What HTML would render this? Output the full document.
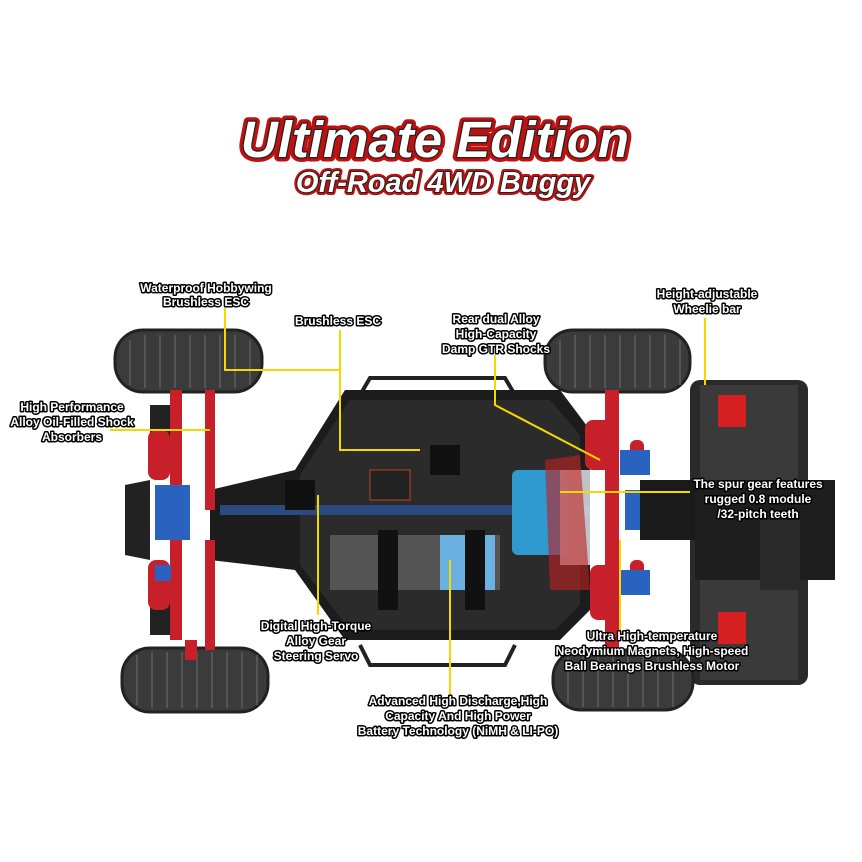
<!DOCTYPE html>
<html><head><meta charset="utf-8"><style>
html,body{margin:0;padding:0;background:#fff;}
svg{display:block}
.t{font-family:"Liberation Sans",sans-serif;font-weight:bold;font-style:italic;}
.lb{font-family:"Liberation Sans",sans-serif;font-weight:bold;font-size:12px;fill:#fff;stroke:#000;stroke-width:3px;paint-order:stroke;stroke-linejoin:round;}
.ln{stroke:#f5d800;stroke-width:2;fill:none}
</style></head><body>
<svg width="862" height="862" viewBox="0 0 862 862" xmlns="http://www.w3.org/2000/svg">
<rect width="862" height="862" fill="#fff"/>
<text x="435" y="157" text-anchor="middle" class="t" font-size="51" fill="#fff" stroke="#c01010" stroke-width="9" stroke-linejoin="round" paint-order="stroke">Ultimate Edition</text>
<text x="435" y="157" text-anchor="middle" class="t" font-size="51" fill="#fff" stroke="#222" stroke-width="2.5" paint-order="stroke">Ultimate Edition</text>
<text x="443" y="192" text-anchor="middle" class="t" font-size="29" fill="#fff" stroke="#c01010" stroke-width="6" stroke-linejoin="round" paint-order="stroke">Off-Road 4WD Buggy</text>
<text x="443" y="192" text-anchor="middle" class="t" font-size="29" fill="#fff" stroke="#222" stroke-width="2" paint-order="stroke">Off-Road 4WD Buggy</text>

<path d="M360 395 L370 378 L505 378 L515 395" stroke="#222" stroke-width="4" fill="none"/>
<path d="M360 645 L370 665 L505 665 L515 645" stroke="#222" stroke-width="4" fill="none"/>
<rect x="690" y="380" width="118" height="305" rx="10" fill="#2a2a2a"/>
<rect x="700" y="385" width="98" height="295" fill="#3a3a3a"/>
<rect x="695" y="480" width="140" height="100" fill="#1e1e1e"/>
<rect x="718" y="395" width="28" height="32" fill="#d42020"/>
<rect x="718" y="612" width="28" height="32" fill="#d42020"/>
<rect x="760" y="520" width="40" height="70" fill="#2a2a2a"/>
<g fill="#3b3b3b" stroke="#222" stroke-width="3">
<rect x="115" y="330" width="147" height="62" rx="28"/>
<rect x="122" y="648" width="146" height="64" rx="28"/>
<rect x="545" y="330" width="145" height="62" rx="28"/>
<rect x="553" y="650" width="140" height="60" rx="28"/>
</g>
<g stroke="#555" stroke-width="2">
<path d="M130 340 V385 M145 335 V388 M160 335 V388 M175 335 V388 M190 335 V388 M205 335 V388 M220 335 V388 M235 335 V388 M250 340 V385"/>
<path d="M137 655 V705 M152 652 V708 M167 652 V708 M182 652 V708 M197 652 V708 M212 652 V708 M227 652 V708 M242 652 V708 M257 655 V705"/>
<path d="M560 340 V385 M575 335 V388 M590 335 V388 M605 335 V388 M620 335 V388 M635 335 V388 M650 335 V388 M665 335 V388 M680 340 V385"/>
<path d="M568 657 V703 M583 653 V707 M598 653 V707 M613 653 V707 M628 653 V707 M643 653 V707 M658 653 V707 M673 653 V707"/>
</g>
<path d="M125 485 L150 480 L150 560 L125 555 Z" fill="#222"/>
<rect x="150" y="405" width="30" height="40" fill="#222"/>
<rect x="150" y="595" width="30" height="40" fill="#222"/>
<path d="M210 490 L295 470 L345 390 L560 390 L590 430 L590 610 L560 640 L345 640 L295 570 L210 560 Z" fill="#1c1c1c"/>
<path d="M300 475 L350 400 L550 400 L580 435 L580 605 L555 630 L350 630 L300 565 Z" fill="#2b2b2b"/>
<rect x="220" y="505" width="370" height="10" fill="#2a4a80"/>
<rect x="330" y="535" width="170" height="55" fill="#555"/>
<rect x="440" y="535" width="55" height="55" fill="#6ab0e0"/>
<rect x="378" y="530" width="20" height="80" fill="#111"/>
<rect x="465" y="530" width="20" height="80" fill="#111"/>
<rect x="370" y="470" width="40" height="30" fill="#222" stroke="#c04020"/>
<rect x="285" y="480" width="30" height="30" fill="#111"/>
<rect x="430" y="445" width="30" height="30" fill="#111"/>
<rect x="512" y="470" width="55" height="85" rx="6" fill="#2e9ad0"/>
<rect x="560" y="470" width="30" height="95" fill="#d0d6dc" opacity="0.9"/>
<path d="M545 460 L580 455 L590 590 L550 590 Z" fill="#c02020" opacity="0.6"/>
<g fill="#c8202a">
<rect x="170" y="390" width="12" height="250" />
<rect x="205" y="390" width="10" height="120"/>
<rect x="205" y="540" width="10" height="110"/>
<rect x="148" y="430" width="22" height="50" rx="8"/>
<rect x="148" y="560" width="22" height="50" rx="8"/>
<rect x="185" y="640" width="12" height="20"/>
<rect x="605" y="390" width="14" height="260"/>
<rect x="585" y="420" width="28" height="50" rx="8"/>
<rect x="590" y="565" width="28" height="55" rx="8"/>
<rect x="630" y="440" width="14" height="30" rx="6"/>
<rect x="630" y="560" width="14" height="30" rx="6"/>
</g>
<g fill="#2a62c0">
<rect x="155" y="485" width="35" height="55"/>
<rect x="155" y="565" width="16" height="16"/>
<rect x="620" y="450" width="30" height="25"/>
<rect x="620" y="570" width="30" height="25"/>
<rect x="625" y="490" width="15" height="40"/>
</g>
<rect x="640" y="480" width="55" height="60" fill="#1a1a1a"/>

<path class="ln" d="M225 308 V370 H340 V330"/>
<path class="ln" d="M340 330 V450 H420"/>
<path class="ln" d="M495 355 V405 L600 460"/>
<path class="ln" d="M705 318 V385"/>
<path class="ln" d="M110 430 H210"/>
<path class="ln" d="M560 492 H690"/>
<path class="ln" d="M318 495 V615"/>
<path class="ln" d="M620 540 V635"/>
<path class="ln" d="M450 560 V695"/>

<g class="lb">
<text x="206" y="292" text-anchor="middle">Waterproof Hobbywing</text>
<text x="206" y="306" text-anchor="middle">Brushless ESC</text>
<text x="338" y="325" text-anchor="middle">Brushless ESC</text>
<text x="496" y="323" text-anchor="middle">Rear dual Alloy</text>
<text x="496" y="338" text-anchor="middle">High-Capacity</text>
<text x="496" y="353" text-anchor="middle">Damp GTR Shocks</text>
<text x="707" y="298" text-anchor="middle">Height-adjustable</text>
<text x="707" y="313" text-anchor="middle">Wheelie bar</text>
<text x="72" y="411" text-anchor="middle">High Performance</text>
<text x="72" y="426" text-anchor="middle">Alloy Oil-Filled Shock</text>
<text x="72" y="441" text-anchor="middle">Absorbers</text>
<text x="758" y="488" text-anchor="middle">The spur gear features</text>
<text x="758" y="503" text-anchor="middle">rugged 0.8 module</text>
<text x="758" y="518" text-anchor="middle">/32-pitch teeth</text>
<text x="316" y="630" text-anchor="middle">Digital High-Torque</text>
<text x="316" y="645" text-anchor="middle">Alloy Gear</text>
<text x="316" y="660" text-anchor="middle">Steering Servo</text>
<text x="652" y="640" text-anchor="middle">Ultra High-temperature</text>
<text x="652" y="655" text-anchor="middle">Neodymium Magnets, High-speed</text>
<text x="652" y="670" text-anchor="middle">Ball Bearings Brushless Motor</text>
<text x="458" y="705" text-anchor="middle">Advanced High Discharge,High</text>
<text x="458" y="720" text-anchor="middle">Capacity And High Power</text>
<text x="458" y="735" text-anchor="middle">Battery Technology (NiMH &amp; LI-PO)</text>
</g>
</svg>
</body></html>
